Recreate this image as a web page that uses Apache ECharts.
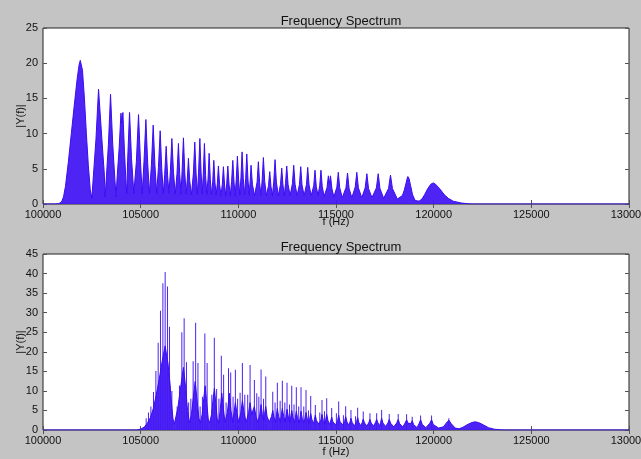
<!DOCTYPE html>
<html>
<head>
<meta charset="utf-8">
<script src="https://cdn.jsdelivr.net/npm/echarts@6/dist/echarts.min.js"></script>
<style>
html,body{margin:0;padding:0;background:#c4c4c4;}
#chart{width:641px;height:459px;}
</style>
</head>
<body>
<div id="chart"></div>
<script>
// ---- Text ----
const TITLE = 'Frequency Spectrum';
const X_NAME = 'f (Hz)';
const Y_NAME = '|Y(f)|';

// ---- Axis ranges ----
const X_RANGE = [100000, 130000];
const X_STEP = 5000;
const TOP_Y_MAX = 25;
const BOTTOM_Y_MAX = 45;
const Y_STEP = 5;

// ---- Top spectrum |Y(f)| (frequency Hz, magnitude) ----
const topSpectrum = [
[100000,0],[100600,0],[100800,0.05],[100950,0.3],[101050,1.0],[101150,2.5],[101300,6.0],[101450,10.0],[101600,14.0],[101750,17.8],[101850,19.8],[101908,20.4],[101960,20.3],[102020,19.0],[102120,15.0],[102220,10.0],[102320,5.5],[102420,2.0],[102500,0.8],
[102590,4.4],[102710,9.1],[102843,16.3],[103017,9.1],[103135,4.4],[103180,1.0],
[103250,4.0],[103350,8.5],[103457,15.6],[103570,8.5],[103680,3.5],[103740,1.0],
[103800,4.0],[103900,8.0],[103990,12.9],[104040,11.5],[104090,13.0],[104170,7.5],[104250,3.0],[104290,1.5],
[104330,6.0],[104430,13.0],[104530,6.5],[104650,1.5],
[104780,6.0],[104890,12.7],[104990,6.0],[105080,1.5],
[105170,6.0],[105267,12.0],[105360,5.8],[105450,1.5],
[105550,5.5],[105641,11.2],[105730,5.5],[105820,1.5],
[105910,5.2],[105999,10.4],[106080,5.0],[106160,1.5],
[106230,4.2],[106306,8.2],[106380,4.0],[106450,1.5],
[106520,4.6],[106597,9.3],[106680,4.5],[106770,1.4],
[106860,4.3],[106934,8.6],[107000,4.2],[107065,1.4],
[107120,4.6],[107190,9.4],[107260,4.4],[107330,1.4],
[107385,3.4],[107446,6.5],[107510,3.3],[107600,1.3],
[107700,4.4],[107770,8.8],[107840,4.2],[107905,1.4],
[107965,4.5],[108030,9.3],[108095,4.4],[108150,1.4],
[108205,4.2],[108264,8.6],[108325,4.0],[108385,1.4],
[108450,3.6],[108505,7.2],[108565,3.5],[108625,1.3],
[108690,3.2],[108745,6.2],[108805,3.0],[108865,1.3],
[108925,2.9],[108980,5.4],[109040,2.8],[109110,1.2],
[109180,2.8],[109236,5.3],[109295,2.7],[109350,1.2],
[109405,2.9],[109461,5.4],[109525,2.8],[109590,1.2],
[109655,3.2],[109717,6.2],[109780,3.1],[109835,1.2],
[109895,3.5],[109952,6.8],[110015,3.4],[110075,1.3],
[110135,3.8],[110192,7.4],[110255,3.6],[110315,1.3],
[110375,3.6],[110433,7.1],[110495,3.4],[110555,1.3],
[110600,3.0],[110652,5.5],[110720,2.8],[110830,1.2],
[110960,3.1],[111026,6.0],[111090,3.0],[111160,1.2],
[111220,3.4],[111282,6.6],[111350,3.2],[111440,1.2],
[111545,2.6],[111608,4.6],[111670,2.5],[111745,1.2],
[111815,3.2],[111880,6.3],[111950,3.0],[112050,1.2],
[112160,2.8],[112222,5.1],[112285,2.7],[112355,1.2],
[112415,2.9],[112478,5.4],[112545,2.8],[112650,1.2],
[112770,2.9],[112836,5.5],[112905,2.8],[113010,1.2],
[113130,2.8],[113194,5.3],[113260,2.7],[113370,1.2],
[113490,2.8],[113552,5.2],[113620,2.7],[113730,1.2],
[113860,2.6],[113925,4.8],[113990,2.5],[114080,1.2],
[114165,2.6],[114230,4.8],[114295,2.5],[114390,1.1],
[114540,2.3],[114610,4.0],[114665,2.9],[114720,4.0],[114790,2.2],[114890,1.0],
[115045,2.4],[115117,4.5],[115190,2.3],[115320,0.9],
[115510,2.3],[115590,4.4],[115670,2.2],[115810,0.9],
[115985,2.4],[116065,4.5],[116145,2.3],[116320,0.9],
[116495,2.3],[116580,4.3],[116665,2.2],[116840,0.9],
[117070,2.3],[117160,4.3],[117250,2.2],[117440,0.8],
[117690,2.2],[117790,4.1],[117890,2.2],[118140,0.7],
[118400,1.2],[118500,2.0],[118580,2.9],[118640,3.6],[118680,3.9],[118740,3.6],[118820,2.6],[118920,1.3],[119050,0.5],
[119250,0.4],[119400,0.7],[119550,1.4],[119700,2.2],[119850,2.8],[119975,3.0],[120100,2.8],[120300,2.2],[120550,1.3],[120750,0.8],[121000,0.4],[121400,0.15],[121800,0.02],[122000,0],[130000,0]
];

// ---- Bottom spectrum: dense base envelope (frequency Hz, magnitude) ----
const bottomEnvelope = [
[100000,0],[104800,0],[105000,0.2],[105200,0.8],[105350,1.8],[105500,3.2],[105650,5.5],[105800,9.0],[105950,13.0],[106100,17.5],[106250,21.5],[106300,21.0],[106400,17.0],[106500,12.0],[106560,8.0],[106650,3.0],[106720,1.5],
[106800,2.0],[106900,5.5],[107050,11.0],[107190,16.0],[107300,11.0],[107400,5.0],[107500,1.8],
[107600,4.0],[107700,8.5],[107790,12.4],[107880,8.0],[107980,3.0],[108060,1.8],
[108150,4.0],[108230,8.0],[108300,11.3],[108380,7.0],[108460,2.8],[108530,1.8],
[108630,4.0],[108700,7.5],[108776,10.7],[108850,6.5],[108920,2.8],[108990,1.8],
[109060,4.5],[109154,9.4],[109230,5.5],[109320,2.0],
[109440,4.5],[109543,9.4],[109620,5.0],[109720,2.0],
[109780,4.5],[109850,7.0],[109920,4.5],[110020,2.0],
[110130,4.5],[110210,7.5],[110290,4.5],[110400,2.0],
[110530,4.5],[110600,7.0],[110680,4.0],[110750,4.0],[110820,6.0],[110900,3.5],[111000,2.0],
[111100,4.0],[111164,6.5],[111230,4.0],[111300,2.5],
[111340,4.0],[111404,6.0],[111470,3.5],[111580,2.0],
[111700,3.5],[111762,5.0],[111830,3.2],[111910,2.0],
[111940,3.5],[111997,5.5],[112060,3.5],[112150,2.0],
[112190,3.5],[112253,5.5],[112320,3.5],[112400,2.0],
[112440,3.5],[112493,5.3],[112560,3.3],[112640,2.0],
[112680,3.3],[112734,5.0],[112800,3.2],[112880,1.9],
[112920,3.2],[112969,4.8],[113030,3.0],[113120,1.8],
[113160,3.1],[113209,4.8],[113270,3.0],[113360,1.8],
[113410,3.0],[113465,4.5],[113530,2.8],[113620,1.7],
[113650,2.8],[113705,4.2],[113770,2.6],[113860,1.6],
[113890,2.6],[113941,3.8],[114000,2.4],[114130,1.5],
[114230,2.6],[114283,4.0],[114350,2.4],[114430,1.5],
[114470,2.6],[114524,4.0],[114590,2.4],[114680,1.4],
[114730,2.3],[114779,3.3],[114840,2.1],[114980,1.3],
[115080,2.3],[115137,3.8],[115200,2.2],[115330,1.3],
[115440,2.2],[115495,3.4],[115560,2.1],[115650,1.2],
[115720,2.1],[115766,3.0],[115830,1.9],[115950,1.1],
[116050,2.0],[116109,3.2],[116170,1.9],[116270,1.1],
[116340,1.9],[116395,2.8],[116460,1.8],[116580,1.0],
[116680,1.9],[116738,2.7],[116800,1.8],[116920,1.0],
[117020,1.9],[117081,2.7],[117150,1.8],[117230,1.0],
[117280,1.9],[117336,3.0],[117400,1.8],[117540,0.9],
[117660,1.8],[117725,2.7],[117800,1.7],[117960,0.8],
[118110,1.8],[118185,2.7],[118260,1.6],[118420,0.8],
[118540,1.8],[118615,2.6],[118690,1.7],[118760,1.4],
[118850,1.7],[118901,2.4],[118970,1.4],[119150,0.6],
[119250,1.6],[119331,2.6],[119420,1.4],[119600,0.6],
[119800,1.7],[119893,2.6],[119980,1.4],[120250,0.5],
[120500,0.8],[120650,1.8],[120778,2.5],[120900,1.6],[121100,0.5],
[121300,0.3],[121500,0.7],[121700,1.3],[121900,1.8],[122100,2.1],[122300,1.9],[122550,1.3],[122800,0.6],[123100,0.2],[123500,0.03],[123700,0],[130000,0]
];

// ---- Bottom spectrum: individual tall spectral lines (frequency Hz, magnitude) ----
const bottomSpikes = [
[105283,3.0],[105400,4.5],[105523,6.0],[105656,9.7],[105779,15.1],[105896,22.3],[106014,30.5],[106137,37.5],[106254,40.4],[106372,36.7],[106474,26.4],[106597,10.0],
[106868,6.0],[106986,11.4],[107108,25.0],[107226,28.6],[107344,17.3],[107456,7.0],
[107569,8.0],[107686,17.6],[107814,27.4],[107932,17.1],[108044,6.0],
[108162,8.5],[108285,24.7],[108402,17.1],
[108643,9.0],[108770,23.6],[108888,10.5],
[109006,8.0],[109129,19.0],[109246,14.1],
[109374,7.0],[109497,15.8],[109609,14.7],
[109730,8.5],[109849,15.4],[109962,8.0],
[110090,9.5],[110207,17.1],[110330,9.0],
[110480,9.0],[110601,16.6],[110821,12.8],[110944,9.4],
[111050,8.5],[111164,15.5],[111290,8.0],[111404,13.7],
[111762,9.8],[111880,7.0],[111997,12.1],[112140,7.5],[112253,12.6],[112380,7.0],[112493,12.1],[112620,6.5],[112734,11.3],[112850,6.5],[112969,10.9],[113090,6.0],[113209,10.9],[113350,6.0],[113465,10.2],[113590,5.0],[113705,8.7],[113941,6.4],[114170,4.5],[114283,7.7],[114410,4.8],[114524,8.1],[114779,5.6],[115020,4.3],[115137,7.3],[115380,3.8],[115495,6.1],[115766,5.1],[116000,3.5],[116109,5.7],[116395,4.7],[116738,4.3],[117081,4.3],[117336,5.1],[117725,4.1],[118185,4.1],[118615,4.0],[118901,3.4],[119331,3.7],[119893,3.7],[120778,3.0]
];

// ---- Styling ----
const FONT = 'Liberation Sans, Arial, Helvetica, sans-serif';
const LINE_COLOR = '#3a0cf4';
const FILL_COLOR = '#4518f4';
const TEXT_COLOR = '#111';

const chart = echarts.init(document.getElementById('chart'), null, {renderer: 'canvas'});

function gridDef(top) {
  return {left: 43, top: top, width: 586, height: 176, show: true, outerBoundsMode: 'none',
          backgroundColor: '#ffffff', borderColor: '#222', borderWidth: 1, containLabel: false};
}
function xAxes(gi, gap) {
  const common = {gridIndex: gi, type: 'value', min: X_RANGE[0], max: X_RANGE[1], interval: X_STEP,
    splitLine: {show: false}, axisLine: {show: false},
    axisTick: {show: true, inside: true, length: 4, lineStyle: {color: '#555'}}};
  return [
    Object.assign({}, common, {position: 'bottom',
      axisLabel: {show: true, fontSize: 11, color: TEXT_COLOR, fontFamily: FONT, margin: 5,
                  hideOverlap: false, formatter: v => String(v)},
      name: X_NAME, nameLocation: 'middle', nameGap: gap, nameMoveOverlap: false,
      nameTextStyle: {fontSize: 11, color: TEXT_COLOR, fontFamily: FONT}}),
    Object.assign({}, common, {position: 'top', axisLabel: {show: false}})
  ];
}
function yAxes(gi, max) {
  const common = {gridIndex: gi, type: 'value', min: 0, max: max, interval: Y_STEP,
    splitLine: {show: false}, axisLine: {show: false},
    axisTick: {show: true, inside: true, length: 4, lineStyle: {color: '#555'}}};
  return [
    Object.assign({}, common, {position: 'left',
      axisLabel: {show: true, fontSize: 11, color: TEXT_COLOR, fontFamily: FONT, margin: 5},
      name: Y_NAME, nameLocation: 'middle', nameGap: 17, nameRotate: 90, nameMoveOverlap: false,
      nameTextStyle: {fontSize: 11, color: TEXT_COLOR, fontFamily: FONT}}),
    Object.assign({}, common, {position: 'right', axisLabel: {show: false}})
  ];
}

const option = {
  backgroundColor: '#c4c4c4',
  animation: false,
  title: [
    {text: TITLE, left: 336, top: 10, textAlign: 'center',
     textStyle: {fontSize: 13, fontWeight: 'normal', color: TEXT_COLOR, fontFamily: FONT}},
    {text: TITLE, left: 336, top: 236, textAlign: 'center',
     textStyle: {fontSize: 13, fontWeight: 'normal', color: TEXT_COLOR, fontFamily: FONT}}
  ],
  grid: [gridDef(28), gridDef(254)],
  xAxis: [].concat(xAxes(0, 12), xAxes(1, 16)),
  yAxis: [].concat(yAxes(0, TOP_Y_MAX), yAxes(1, BOTTOM_Y_MAX)),
  series: [
    {type: 'line', xAxisIndex: 0, yAxisIndex: 0, data: topSpectrum, showSymbol: false,
     smooth: false, silent: true, clip: true,
     lineStyle: {color: LINE_COLOR, width: 1},
     areaStyle: {color: FILL_COLOR, opacity: 0.95}},
    {type: 'line', xAxisIndex: 2, yAxisIndex: 2, data: bottomEnvelope, showSymbol: false,
     smooth: false, silent: true, clip: true,
     lineStyle: {color: LINE_COLOR, width: 1},
     areaStyle: {color: FILL_COLOR, opacity: 0.95}},
    {type: 'bar', xAxisIndex: 2, yAxisIndex: 2, data: bottomSpikes, barWidth: 1,
     silent: true, clip: true,
     itemStyle: {color: '#4b22f0'}}
  ]
};
chart.setOption(option);
</script>
</body>
</html>
